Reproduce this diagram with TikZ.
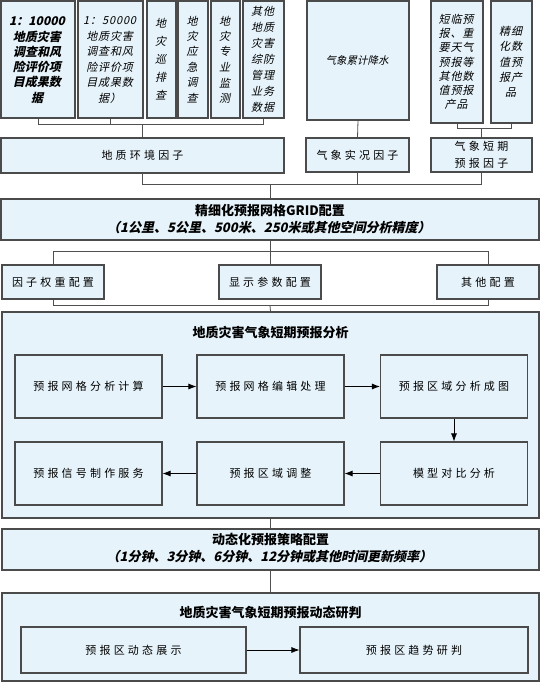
\documentclass[tikz,border=0pt]{standalone}
\usepackage{fontspec}
\usepackage{tikz}
\usetikzlibrary{arrows.meta,calc}
\newfontfamily\cjk{Noto Sans CJK SC}[LetterSpace=29]
\newfontfamily\cjktight{Noto Sans CJK SC}
\newfontfamily\cjksp{Noto Sans CJK SC}[LetterSpace=8]
\definecolor{boxfill}{RGB}{230,243,250}
\definecolor{boxline}{RGB}{75,75,75}
\definecolor{wirecol}{RGB}{80,80,80}

\begin{document}
\begin{tikzpicture}[x=1pt,y=-1pt,
  box/.style={draw=boxline, fill=boxfill, line width=1.1pt, inner sep=0pt, align=center, font=\cjk\fontsize{11}{15}\selectfont},
  slanttext/.style={inner sep=0pt, align=center, transform shape, xslant=0.22, font=\cjksp\fontsize{11}{15.5}\selectfont},
  title/.style={inner sep=0pt, font=\cjktight\bfseries\fontsize{13}{15}\selectfont},
  wire/.style={draw=wirecol, line width=0.8pt},
  flow/.style={draw=black, line width=0.8pt, -{Latex[length=8pt,width=6pt]}}]
\useasboundingbox (0,0) rectangle (541,682);
\node[box, minimum width=74pt, minimum height=117pt] (b1) at (38,59.5) {};
\foreach \t [count=\i] in {1：10000,地质灾害,调查和风,险评价项,目成果数,据}
  \node[shift={($(b1.center)+(0,{(\i-3.5)*15.2})$)}, slanttext, font=\cjktight\bfseries\fontsize{12}{15}\selectfont] (b1l\i) at (0,0) {\t};
\node[box, minimum width=65pt, minimum height=117pt] (b2) at (110.5,59.5) {};
\foreach \t [count=\i] in {1：50000,地质灾害,调查和风,险评价项,目成果数,据）}
  \node[shift={($(b2.center)+(0,{(\i-3.5)*15.5})$)}, slanttext] (b2l\i) at (0,0) {\t};
\node[box, minimum width=29pt, minimum height=117pt] (b3) at (161.5,59.5) {};
\foreach \t [count=\i] in {地,灾,巡,排,查}
  \node[shift={($(b3.center)+(0,{(\i-3)*18})$)}, slanttext] (b3l\i) at (0,0) {\t};
\node[box, minimum width=30pt, minimum height=117pt] (b4) at (193,59.5) {};
\foreach \t [count=\i] in {地,灾,应,急,调,查}
  \node[shift={($(b4.center)+(0,{(\i-3.5)*15.5})$)}, slanttext] (b4l\i) at (0,0) {\t};
\node[box, minimum width=29pt, minimum height=117pt] (b5) at (225.5,59.5) {};
\foreach \t [count=\i] in {地,灾,专,业,监,测}
  \node[shift={($(b5.center)+(0,{(\i-3.5)*15.5})$)}, slanttext] (b5l\i) at (0,0) {\t};
\node[box, minimum width=41pt, minimum height=117pt] (b6) at (263.5,59.5) {};
\foreach \t [count=\i] in {其他,地质,灾害,综防,管理,业务,数据}
  \node[shift={($(b6.center)+(0,{(\i-4)*16})$)}, slanttext] (b6l\i) at (0,0) {\t};
\node[box, minimum width=102pt, minimum height=119pt] (rain) at (358,60.5) {};
\node[shift={(rain.center)}, slanttext, font=\cjktight\fontsize{10.5}{12}\selectfont] (raintext) at (0,0) {气象累计降水};
\node[box, minimum width=52pt, minimum height=122pt] (nwpA) at (457,62) {};
\foreach \t [count=\i] in {短临预,报、重,要天气,预报等,其他数,值预报,产品}
  \node[shift={($(nwpA.center)+(0,{(\i-4)*14.2})$)}, slanttext] (nwpAl\i) at (0,0) {\t};
\node[box, minimum width=41pt, minimum height=122pt] (nwpB) at (511.5,62) {};
\foreach \t [count=\i] in {精细,化数,值预,报产,品}
  \node[shift={($(nwpB.center)+(0,{(\i-3)*15.3})$)}, slanttext] (nwpBl\i) at (0,0) {\t};
\node[box, minimum width=283pt, minimum height=35pt] (geo) at (142.5,155.5) {地质环境因子};
\node[box, minimum width=103pt, minimum height=34pt] (obs) at (357.5,155) {气象实况因子};
\node[box, font=\cjk\fontsize{11}{17}\selectfont, minimum width=101pt, minimum height=34pt] (fc) at (481.5,155) {气象短期\\预报因子};
\coordinate (topjoin) at ($(geo.north)+(0,-13)$);
\draw[wire] (b1.south) |- (b6.south |- topjoin) -- (b6.south);
\draw[wire] (b2.south) -- (b2.south |- topjoin);
\draw[wire] (topjoin) -- (geo.north);
\draw[wire] (rain.south) -- (obs.north);
\coordinate (nwpjoin) at ($(fc.north)+(0,-9)$);
\draw[wire] (nwpA.south) |- (nwpB.south |- nwpjoin) -- (nwpB.south);
\draw[wire] (nwpjoin) -- (fc.north);
\node[box, minimum width=538pt, minimum height=41pt] (grid) at (270,219.5) {};
\node[title] (gridtitle) at (270,211) {精细化预报网格GRID配置};
\node[shift={(270,228)}, slanttext, font=\cjktight\bfseries\fontsize{13}{15}\selectfont] (gridsub) at (0,0) {（1公里、5公里、500米、250米或其他空间分析精度）};
\coordinate (gridjoin) at ($(grid.north)+(0,-14)$);
\draw[wire] (geo.south) |- (fc.south |- gridjoin) -- (fc.south);
\draw[wire] (obs.south) -- (obs.south |- gridjoin);
\draw[wire] (gridjoin) -- (grid.north);
\node[box, minimum width=102pt, minimum height=34pt] (w1) at (53,282) {因子权重配置};
\node[box, minimum width=102pt, minimum height=34pt] (w2) at (270,282) {显示参数配置};
\node[box, minimum width=102pt, minimum height=34pt] (w3) at (488,282) {其他配置};
\coordinate (cfgjoin) at ($(grid.south)+(0,11)$);
\draw[wire] (grid.south) -- (cfgjoin);
\draw[wire] (w1.north) |- (w3.north |- cfgjoin) -- (w3.north);
\draw[wire] (w2.north) -- (w2.north |- cfgjoin);
\node[box, minimum width=537pt, minimum height=206pt] (ana) at (270.5,415) {};
\coordinate (anajoin) at ($(w2.south)+(0,6)$);
\draw[wire] (w1.south) |- (w3.south |- anajoin) -- (w3.south);
\draw[wire] (anajoin) -- (ana.north);
\node[title] (anatitle) at (270.5,333) {地质灾害气象短期预报分析};
\node[box, minimum width=147pt, minimum height=63pt] (p1) at (88.5,386.5) {预报网格分析计算};
\node[box, minimum width=147pt, minimum height=63pt] (p2) at (270.5,386.5) {预报网格编辑处理};
\node[box, minimum width=147pt, minimum height=63pt] (p3) at (454,386.5) {预报区域分析成图};
\node[box, minimum width=147pt, minimum height=63pt] (p4) at (88.5,473.5) {预报信号制作服务};
\node[box, minimum width=147pt, minimum height=63pt] (p5) at (270.5,473.5) {预报区域调整};
\node[box, minimum width=147pt, minimum height=63pt] (p6) at (454,473.5) {模型对比分析};
\draw[flow] (p1) -- (p2);
\draw[flow] (p2) -- (p3);
\draw[flow] (p3) -- (p6);
\draw[flow] (p6) -- (p5);
\draw[flow] (p5) -- (p4);
\node[box, minimum width=537pt, minimum height=41pt] (dyn) at (270.5,549.5) {};
\node[title] (dyntitle) at (270.5,540) {动态化预报策略配置};
\node[shift={(270.5,557)}, slanttext, font=\cjktight\bfseries\fontsize{13}{15}\selectfont] (dynsub) at (0,0) {（1分钟、3分钟、6分钟、12分钟或其他时间更新频率）};
\draw[wire] (ana.south) -- (dyn.north);
\node[box, minimum width=537pt, minimum height=88pt] (judge) at (270.5,637) {};
\draw[wire] (dyn.south) -- (judge.north);
\node[title] (judgetitle) at (270.5,613) {地质灾害气象短期预报动态研判};
\node[box, minimum width=225pt, minimum height=46pt] (q1) at (133.5,650) {预报区动态展示};
\node[box, minimum width=228pt, minimum height=46pt] (q2) at (414,650) {预报区趋势研判};
\draw[flow] (q1) -- (q2);
\end{tikzpicture}
\end{document}
